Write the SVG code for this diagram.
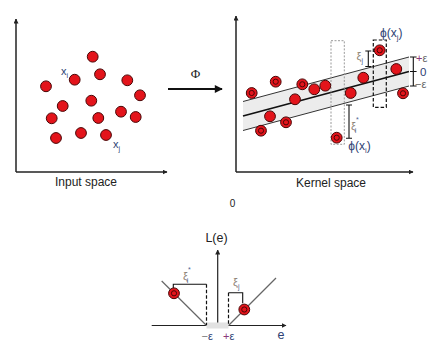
<svg xmlns="http://www.w3.org/2000/svg" width="436" height="349" viewBox="0 0 436 349">
<defs>
<style>
.ax{stroke:#222;stroke-width:1.4;fill:none}
.lbl{font-family:"Liberation Sans",Arial,sans-serif;fill:#222}
.dot{fill:#e3141b;stroke:#4a0606;stroke-width:1}
.ring{fill:none;stroke:#4a0606;stroke-width:1}
.br{stroke:#111;stroke-width:1.1;fill:none}
.dash{stroke:#111;stroke-width:1.2;stroke-dasharray:3.5,2;fill:none}
.gl{font-family:"Liberation Sans",Arial,sans-serif;fill:#2e4274}
.xi{font-family:"Liberation Sans",Arial,sans-serif;fill:#8d8273}
</style>
<marker id="ah" viewBox="0 0 10 10" refX="9" refY="5" markerWidth="5" markerHeight="5" orient="auto" markerUnits="userSpaceOnUse">
<path d="M0,0 L10,5 L0,10 z" fill="#222"/>
</marker>
<marker id="ahb" viewBox="0 0 10 10" refX="9" refY="5" markerWidth="9" markerHeight="8" orient="auto" markerUnits="userSpaceOnUse">
<path d="M0,0 L10,5 L0,10 z" fill="#111"/>
</marker>
<symbol id="rd" overflow="visible"><circle r="5.4" class="dot"/><circle r="2.6" class="ring"/></symbol>
</defs>
<rect width="436" height="349" fill="#fff"/>

<g id="input-space">
<line x1="16" y1="172" x2="16" y2="19" class="ax" marker-end="url(#ah)" style="stroke-width:1.5"/>
<line x1="16" y1="172" x2="167" y2="172" class="ax" marker-end="url(#ah)"/>
<g>
<circle cx="92.7" cy="56.7" r="5.4" class="dot"/>
<circle cx="100" cy="74.3" r="5.4" class="dot"/>
<circle cx="74.7" cy="79.7" r="5.4" class="dot"/>
<circle cx="127.3" cy="80.3" r="5.4" class="dot"/>
<circle cx="46" cy="86.3" r="5.4" class="dot"/>
<circle cx="140" cy="95.3" r="5.4" class="dot"/>
<circle cx="91.3" cy="100.7" r="5.4" class="dot"/>
<circle cx="62.7" cy="106" r="5.4" class="dot"/>
<circle cx="121" cy="111.7" r="5.4" class="dot"/>
<circle cx="135.7" cy="117" r="5.4" class="dot"/>
<circle cx="51.7" cy="118.3" r="5.4" class="dot"/>
<circle cx="98.3" cy="118" r="5.4" class="dot"/>
<circle cx="56" cy="138" r="5.4" class="dot"/>
<circle cx="81" cy="133" r="5.4" class="dot"/>
<circle cx="106" cy="135" r="5.4" class="dot"/>
</g>
<text x="61" y="74.5" class="gl" font-size="11">x<tspan font-size="7" dy="3">i</tspan></text>
<text x="113" y="147.5" class="gl" font-size="11">x<tspan font-size="7" dy="3">j</tspan></text>
<text x="86" y="186" class="lbl" font-size="12" text-anchor="middle">Input space</text>
</g>

<g id="connectors">
<line x1="168" y1="89" x2="222" y2="89" stroke="#111" stroke-width="2.2" marker-end="url(#ahb)"/>
<text x="195.5" y="78" font-family="Liberation Serif,serif" font-size="13" fill="#222" text-anchor="middle">Φ</text>
</g>

<g id="kernel-space">
<polygon points="243,101.5 409,57 409,86 243,130.5" fill="#ececec"/>
<line x1="243" y1="101.5" x2="409" y2="57" stroke="#333" stroke-width="1"/>
<line x1="243" y1="130.5" x2="409" y2="86" stroke="#333" stroke-width="1"/>
<line x1="243" y1="116" x2="409" y2="71.5" stroke="#111" stroke-width="1.8"/>
<rect x="331" y="40.7" width="13.3" height="103.6" fill="none" stroke="#9a9a9a" stroke-width="1" stroke-dasharray="2,1.5"/>
<rect x="373.3" y="40" width="13" height="67.3" class="dash"/>
<line x1="236" y1="172" x2="236" y2="16" class="ax" marker-end="url(#ah)" style="stroke-width:1.5"/>
<line x1="236" y1="172" x2="413" y2="172" class="ax" marker-end="url(#ah)"/>
<g>
<circle cx="314.3" cy="89.3" r="5.4" class="dot"/>
<circle cx="325.3" cy="85.7" r="5.4" class="dot"/>
<circle cx="295" cy="99.3" r="5.4" class="dot"/>
<circle cx="270" cy="116.3" r="5.4" class="dot"/>
<circle cx="350.7" cy="93" r="5.4" class="dot"/>
<circle cx="363.3" cy="77.7" r="5.4" class="dot"/>
<circle cx="396.3" cy="69" r="5.4" class="dot"/>
<use href="#rd" x="251.7" y="93"/>
<use href="#rd" x="275.7" y="81.7"/>
<use href="#rd" x="302.3" y="84.3"/>
<use href="#rd" x="261" y="130.7"/>
<use href="#rd" x="286" y="122.3"/>
<use href="#rd" x="336.7" y="137.7"/>
<use href="#rd" x="379.7" y="50.3"/>
<use href="#rd" x="403" y="93.3"/>
</g>
<path d="M368.3,51 V66.5 M365.3,51 H371.3 M365.3,66.5 H371.3" class="br"/>
<text x="356.5" y="60" class="xi" font-size="11">ξ<tspan font-size="7" dy="3" fill="#4a5f8f">j</tspan></text>
<path d="M349,105 V138.3 M346,105 H352 M346,138.3 H352" class="br"/>
<text x="351" y="130" class="xi" font-size="11">ξ<tspan font-size="7" dy="-8" fill="#4a5f8f">*</tspan><tspan font-size="7" dx="-4" dy="11" fill="#4a5f8f">i</tspan></text>
<path d="M413.3,57 V86 M410,57 H416.6 M410,71.5 H416.6 M410,86 H416.6" class="br"/>
<text x="416" y="62" class="gl" font-size="11"><tspan fill="#8a3a7a">+</tspan><tspan fill="#666">ε</tspan></text>
<text x="420" y="76" class="gl" font-size="11.5">0</text>
<text x="415" y="88" class="gl" font-size="11" fill="#666"><tspan fill="#666">−ε</tspan></text>
<text x="380" y="36.5" class="gl" font-size="12">ϕ(x<tspan font-size="7.5" dy="3">j</tspan><tspan dy="-3">)</tspan></text>
<text x="348.3" y="150" class="gl" font-size="12">ϕ(x<tspan font-size="7.5" dy="3">i</tspan><tspan dy="-3">)</tspan></text>
<text x="331" y="187" class="lbl" font-size="12" text-anchor="middle">Kernel space</text>
</g>

<text x="232.5" y="207" class="lbl" font-size="10" text-anchor="middle">0</text>

<g id="loss-function">
<line x1="151.7" y1="325.5" x2="286" y2="325.5" class="ax" marker-end="url(#ah)" style="stroke-width:1.2"/>
<line x1="217.7" y1="325.5" x2="217.7" y2="250" class="ax" marker-end="url(#ah)" style="stroke-width:1.2"/>
<line x1="161.7" y1="281" x2="206.5" y2="325.5" stroke="#666" stroke-width="1.2"/>
<line x1="228.5" y1="325.5" x2="276" y2="278" stroke="#666" stroke-width="1.2"/>
<rect x="206.5" y="322.5" width="22" height="6" fill="#e2e2e2"/>
<line x1="206.5" y1="284.3" x2="206.5" y2="325" class="dash"/>
<line x1="228.5" y1="292.7" x2="228.5" y2="325" class="dash"/>
<path d="M173.3,288 V284.3 H206.5" class="br"/>
<path d="M228.5,292.7 H242.7 V303.3" class="br"/>
<use href="#rd" x="174" y="293.3"/>
<use href="#rd" x="244.3" y="309.5"/>
<text x="183" y="280" class="xi" font-size="11">ξ<tspan font-size="7" dy="-8" fill="#4a5f8f">*</tspan><tspan font-size="7" dx="-4" dy="11" fill="#4a5f8f">i</tspan></text>
<text x="233" y="286" class="xi" font-size="11">ξ<tspan font-size="7" dy="3" fill="#4a5f8f">j</tspan></text>
<text x="216.5" y="242" class="lbl" font-size="12.5" text-anchor="middle">L(e)</text>
<text x="277.5" y="338.5" class="gl" font-size="12.5">e</text>
<text x="201.5" y="340" class="gl" font-size="11"><tspan fill="#777">−</tspan>ε</text>
<text x="223" y="340" class="gl" font-size="11"><tspan fill="#8a3a7a">+</tspan>ε</text>
</g>
</svg>
